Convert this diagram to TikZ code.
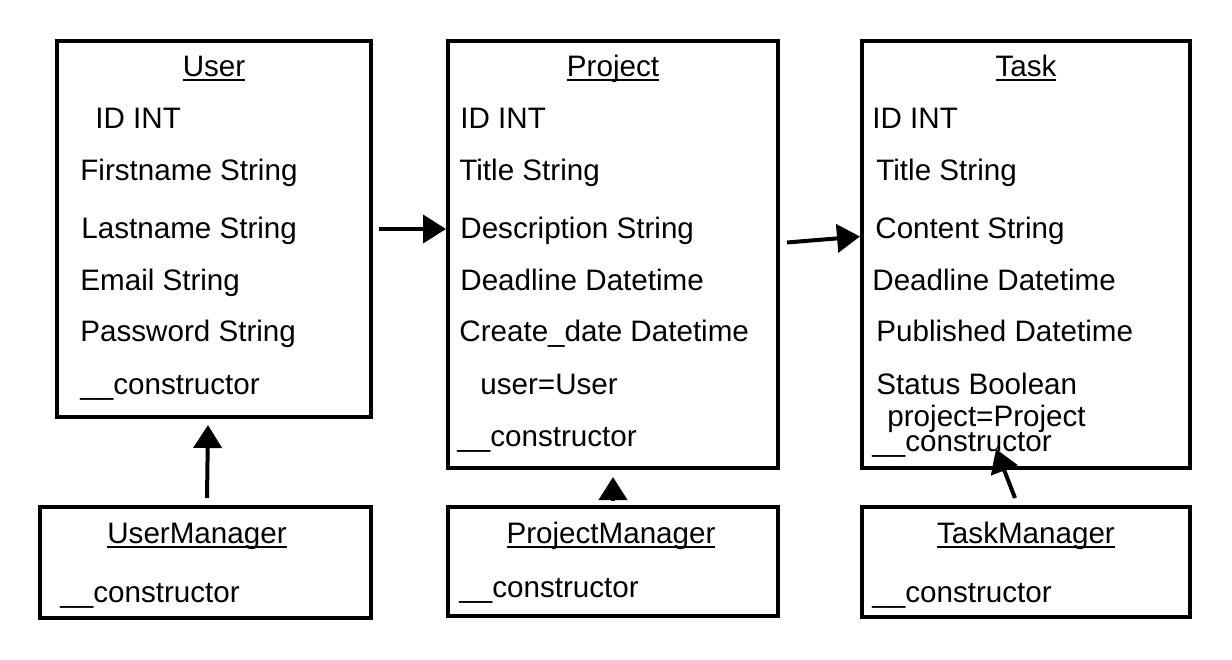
\documentclass[tikz,border=0pt]{standalone}
\usepackage{fontspec}
\setmainfont{Liberation Sans}
\usetikzlibrary{arrows.meta}

% underline just below the baseline, through descenders
\newcommand\classtitle[1]{\setbox0\hbox{#1}\rlap{\rule[-2.2pt]{\wd0}{0.8pt}}#1}

\tikzset{
  classbox/.style={draw, line width=2pt, inner sep=0pt},
  field/.style={anchor=west, inner sep=0pt, text height=10.6pt, text depth=0pt,
    font=\fontsize{14.8}{18}\selectfont},
  classname/.style={field, anchor=center},
  arr/.style={-{Triangle[length=11.5pt,width=14pt]}, line width=2pt},
}

\begin{document}
\begin{tikzpicture}[x=0.5pt, y=-0.5pt]
      \useasboundingbox (0, 0) rectangle (1232, 659);

      % classes
      \node[classbox, minimum width=157pt, minimum height=188pt] (user) at (214, 229) {};
      \node[classbox, minimum width=165pt, minimum height=213.5pt] (project) at (613, 254.5) {};
      \node[classbox, minimum width=164pt, minimum height=213.5pt] (task) at (1026, 254.5) {};

      % managers
      \node[classbox, minimum width=165.5pt, minimum height=55.5pt] (usermgr) at (205.5, 562.5) {};
      \node[classbox, minimum width=165pt, minimum height=54.5pt] (projectmgr) at (613, 561.5) {};
      \node[classbox, minimum width=164pt, minimum height=55pt] (taskmgr) at (1026, 562) {};

      \node[classname] (user-name) at (214, 66) {\classtitle{User}};
      \node[field] (user-id) at (95, 118) {ID INT};
      \node[field] (user-first) at (80, 170) {Firstname String};
      \node[field] (user-last) at (81, 228) {Lastname String};
      \node[field] (user-mail) at (80, 280) {Email String};
      \node[field] (user-pass) at (80, 331) {Password String};
      \node[field] (user-ctor) at (80, 384) {\_\_constructor};

      \node[classname] (project-name) at (613, 66) {\classtitle{Project}};
      \node[field] (project-id) at (460, 118) {ID INT};
      \node[field] (project-title) at (459, 170) {Title String};
      \node[field] (project-desc) at (460, 228) {Description String};
      \node[field] (project-dead) at (460, 280) {Deadline Datetime};
      \node[field] (project-create) at (459, 331) {Create\_date Datetime};
      \node[field] (project-user) at (480, 384) {user=User};
      \node[field] (project-ctor) at (457, 436) {\_\_constructor};

      \node[classname] (task-name) at (1026, 66) {\classtitle{Task}};
      \node[field] (task-id) at (872, 118) {ID INT};
      \node[field] (task-title) at (876, 170) {Title String};
      \node[field] (task-content) at (875, 228) {Content String};
      \node[field] (task-dead) at (872, 280) {Deadline Datetime};
      \node[field] (task-pub) at (876, 331) {Published Datetime};
      \node[field] (task-status) at (876, 384) {Status Boolean};
      \node[field] (task-project) at (887, 416) {project=Project};
      \node[field] (task-ctor) at (872, 441) {\_\_constructor};

      \node[classname] (usermgr-name) at (197, 533) {\classtitle{UserManager}};
      \node[field] (usermgr-ctor) at (60, 592) {\_\_constructor};
      \node[classname] (projectmgr-name) at (611, 533) {\classtitle{ProjectManager}};
      \node[field] (projectmgr-ctor) at (459, 587) {\_\_constructor};
      \node[classname] (taskmgr-name) at (1026, 533) {\classtitle{TaskManager}};
      \node[field] (taskmgr-ctor) at (872, 592) {\_\_constructor};

      \draw[arr] ([xshift=3pt]user.east) -- (user.east -| project.west);
      \draw[arr] ([xshift=3.5pt, yshift=6pt]project.east) -- ([yshift=9pt]task.west);
      \draw[arr] ([xshift=0.75pt, yshift=3.5pt]usermgr.north) -- ([xshift=-3pt, yshift=-3pt]user.south);
      \draw[arr] ([yshift=2pt]projectmgr.north) -- ([yshift=-3.5pt]project.south);
      \draw[arr] ([xshift=-5.5pt, yshift=3.5pt]taskmgr.north) -- ([xshift=-15pt, yshift=10.5pt]task.south);
    \end{tikzpicture}
\end{document}
